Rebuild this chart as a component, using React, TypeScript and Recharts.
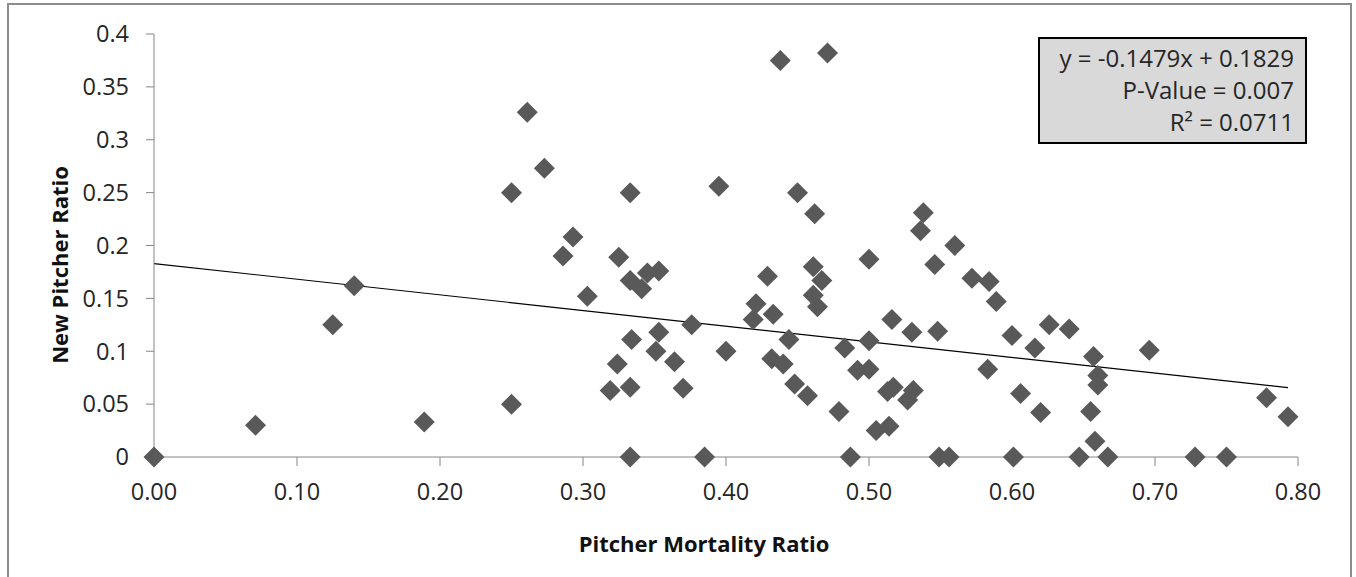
import React from 'react';
import {
  ScatterChart,
  Scatter,
  XAxis,
  YAxis,
  ReferenceLine,
} from 'recharts';

// Pitcher mortality ratio (x) vs new pitcher ratio (y)
const MORTALITY = [
  0, 0.071, 0.125, 0.14, 0.189, 0.25, 0.25, 0.261, 0.273, 0.286,
  0.293, 0.303, 0.319, 0.324, 0.325, 0.333, 0.333, 0.333, 0.333, 0.334,
  0.341, 0.345, 0.353, 0.351, 0.353, 0.364, 0.37, 0.376, 0.385, 0.395,
  0.4, 0.419, 0.421, 0.429, 0.433, 0.432, 0.438, 0.44, 0.444, 0.448,
  0.45, 0.457, 0.462, 0.461, 0.467, 0.461, 0.464, 0.471, 0.479, 0.483,
  0.487, 0.492, 0.5, 0.5, 0.5, 0.505, 0.513, 0.514, 0.516, 0.517,
  0.527, 0.53, 0.531, 0.536, 0.538, 0.546, 0.548, 0.549, 0.556, 0.56,
  0.572, 0.584, 0.583, 0.589, 0.6, 0.601, 0.606, 0.616, 0.62, 0.626,
  0.64, 0.647, 0.655, 0.657, 0.658, 0.66, 0.66, 0.667, 0.696, 0.728,
  0.75, 0.778, 0.793,
];
const NEW_PITCHER = [
  0, 0.03, 0.125, 0.162, 0.033, 0.05, 0.25, 0.326, 0.273, 0.19,
  0.208, 0.152, 0.063, 0.088, 0.189, 0.066, 0, 0.25, 0.167, 0.111,
  0.159, 0.174, 0.176, 0.1, 0.118, 0.09, 0.065, 0.125, 0, 0.256,
  0.1, 0.13, 0.145, 0.171, 0.135, 0.093, 0.375, 0.088, 0.111, 0.069,
  0.25, 0.058, 0.23, 0.18, 0.167, 0.153, 0.142, 0.382, 0.043, 0.103,
  0, 0.082, 0.187, 0.11, 0.083, 0.025, 0.062, 0.029, 0.13, 0.066,
  0.054, 0.118, 0.063, 0.214, 0.231, 0.182, 0.119, 0, 0, 0.2,
  0.169, 0.166, 0.083, 0.147, 0.115, 0, 0.06, 0.103, 0.042, 0.125,
  0.121, 0, 0.043, 0.095, 0.015, 0.077, 0.068, 0, 0.101, 0,
  0, 0.056, 0.038,
];

const X_TICKS = [0, 0.1, 0.2, 0.3, 0.4, 0.5, 0.6, 0.7, 0.8];
const Y_TICKS = [0, 0.05, 0.1, 0.15, 0.2, 0.25, 0.3, 0.35, 0.4];
const Y_TICK_LABELS = ['0', '0.05', '0.1', '0.15', '0.2', '0.25', '0.3', '0.35', '0.4'];

// linear trendline shown in the box
const SLOPE = -0.1479;
const INTERCEPT = 0.1829;
const STATS = ['y = -0.1479x + 0.1829', 'P-Value = 0.007', 'R\u00B2 = 0.0711'];

const points = MORTALITY.map((x, i) => ({ x, y: NEW_PITCHER[i] }));
const trendStart = Math.min(...MORTALITY);
const trendEnd = Math.max(...MORTALITY);

const FONT = '"Open Sans", sans-serif';
const AXIS_GREY = '#868686';

const Diamond = (props: any) => {
  const { cx, cy } = props;
  const r = 10.5;
  return (
    <polygon
      points={`${cx},${cy - r} ${cx + r},${cy} ${cx},${cy + r} ${cx - r},${cy}`}
      fill="#595959"
    />
  );
};

export default function App() {
  return (
    <div
      style={{
        position: 'absolute',
        left: 0,
        top: 0,
        width: 1356,
        height: 577,
        overflow: 'hidden',
        background: '#fff',
        fontFamily: FONT,
      }}
    >
      <div
        style={{
          position: 'absolute',
          left: 7,
          top: 3,
          width: 1341,
          height: 620,
          border: '2px solid #8c8c8c',
        }}
      />
      <div style={{ position: 'absolute', left: 0, top: 0 }}>
        <ScatterChart
          width={1356}
          height={577}
          margin={{ top: 34, right: 58, left: 74, bottom: 60 }}
        >
          <XAxis
            type="number"
            dataKey="x"
            domain={[0, 0.8]}
            ticks={X_TICKS}
            tickFormatter={(v: number) => v.toFixed(2)}
            height={60}
            stroke={AXIS_GREY}
            tickSize={9}
            tickMargin={17}
            tick={{ fill: '#262626', fontSize: 23.5, fontFamily: FONT }}
          />
          <YAxis
            type="number"
            dataKey="y"
            domain={[0, 0.4]}
            ticks={Y_TICKS}
            tickFormatter={(v: number) => Y_TICK_LABELS[Y_TICKS.indexOf(v)] ?? String(v)}
            width={80}
            stroke={AXIS_GREY}
            tickSize={8}
            tickMargin={17}
            tick={{ fill: '#262626', fontSize: 23.5, fontFamily: FONT }}
          />
          <ReferenceLine
            segment={[
              { x: trendStart, y: SLOPE * trendStart + INTERCEPT },
              { x: trendEnd, y: SLOPE * trendEnd + INTERCEPT },
            ]}
            stroke="#000"
            strokeWidth={1.2}
            ifOverflow="visible"
          />
          <Scatter data={points} shape={<Diamond />} isAnimationActive={false} />
        </ScatterChart>
      </div>

      <div
        style={{
          position: 'absolute',
          left: 704,
          top: 543,
          transform: 'translate(-50%, -50%)',
          fontSize: 22,
          fontWeight: 700,
          color: '#111',
          whiteSpace: 'nowrap',
        }}
      >
        Pitcher Mortality Ratio
      </div>
      <div
        style={{
          position: 'absolute',
          left: 59,
          top: 265,
          transform: 'translate(-50%, -50%) rotate(-90deg)',
          fontSize: 22,
          fontWeight: 700,
          color: '#111',
          whiteSpace: 'nowrap',
        }}
      >
        New Pitcher Ratio
      </div>

      <div
        style={{
          position: 'absolute',
          left: 1038,
          top: 37,
          width: 269,
          height: 107,
          boxSizing: 'border-box',
          background: '#d9d9d9',
          border: '2px solid #000',
          textAlign: 'right',
          paddingRight: 11,
          paddingTop: 3,
          fontSize: 24,
          lineHeight: '32px',
          color: '#262626',
          whiteSpace: 'nowrap',
        }}
      >
        {STATS.map((s) => (
          <div key={s}>{s}</div>
        ))}
      </div>
    </div>
  );
}
